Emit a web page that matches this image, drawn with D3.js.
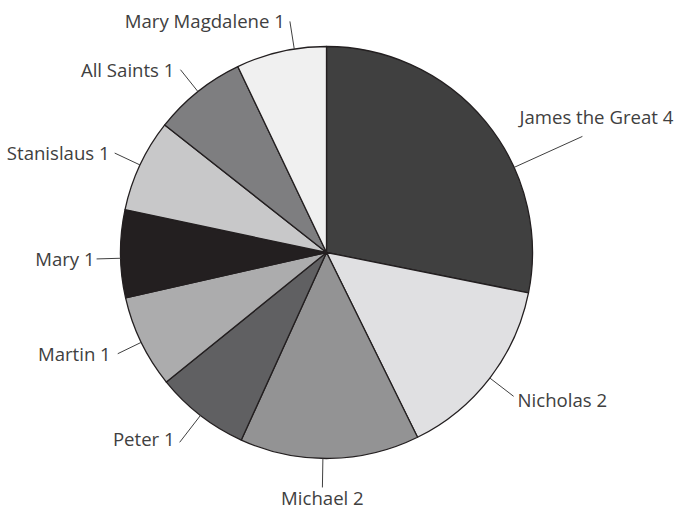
<!DOCTYPE html>
<html>
<head>
<meta charset="utf-8">
<script src="https://cdn.jsdelivr.net/npm/d3@7"></script>
<style>
  html, body { margin: 0; padding: 0; background: #fff; }
  svg { display: block; }
</style>
</head>
<body>
<svg id="chart" width="677" height="510"></svg>
<script>
// ---- data ----
const categories = ["James the Great", "Nicholas", "Michael", "Peter", "Martin", "Mary", "Stanislaus", "All Saints", "Mary Magdalene"];
const counts = [4, 2, 2, 1, 1, 1, 1, 1, 1];
// slice shares (percent)
const shares = [28.2, 14.6, 14.1, 7.4, 7.3, 6.9, 7.3, 7.3, 7.1];
const colors = ["#404040", "#e0e0e2", "#939394", "#606062", "#acacad", "#231f20", "#c8c8c9", "#7e7e80", "#f0f0f0"];

// ---- label layout (leader angle overrides in degrees, leader end radius, text placement) ----
const labelLayout = [
  { angle: 65.6, len: 281, anchor: "middle", dx: 14, dy: -20 },
  { angle: null, len: 236, anchor: "start", dx: 4, dy: 3 },
  { angle: 181, len: 235, anchor: "middle", dx: 0, dy: 10 },
  { angle: null, len: 240, anchor: "end", dx: -5, dy: -4 },
  { angle: null, len: 232, anchor: "end", dx: -7, dy: 0 },
  { angle: 268.4, len: 230, anchor: "end", dx: -2, dy: 0 },
  { angle: null, len: 234, anchor: "end", dx: -5, dy: -1 },
  { angle: null, len: 234, anchor: "end", dx: -6, dy: 0 },
  { angle: 351, len: 234, anchor: "end", dx: -5, dy: -1 }
];

const svg = d3.select("#chart");
const cx = 326.5, cy = 252.5, R = 206;
const g = svg.append("g").attr("transform", `translate(${cx},${cy})`);

const data = categories.map((c, i) => ({ name: c, count: counts[i], share: shares[i], color: colors[i], layout: labelLayout[i] }));

const pie = d3.pie().value(d => d.share).sort(null);
const arc = d3.arc().innerRadius(0).outerRadius(R);
const arcs = pie(data);

g.selectAll("path.slice")
  .data(arcs)
  .join("path")
  .attr("class", "slice")
  .attr("d", arc)
  .attr("fill", d => d.data.color)
  .attr("stroke", "#231f20")
  .attr("stroke-width", 1.3)
  .attr("stroke-linejoin", "round");

const polar = (deg, r) => {
  const a = deg * Math.PI / 180;
  return [r * Math.sin(a), -r * Math.cos(a)];
};

const labels = g.selectAll("g.label").data(arcs).join("g").attr("class", "label");

labels.each(function (d) {
  const L = d.data.layout;
  const mid = (d.startAngle + d.endAngle) / 2 * 180 / Math.PI;
  const ang = L.angle == null ? mid : L.angle;
  const p0 = polar(ang, R);
  const p1 = polar(ang, L.len);
  const sel = d3.select(this);
  sel.append("line")
    .attr("x1", p0[0]).attr("y1", p0[1])
    .attr("x2", p1[0]).attr("y2", p1[1])
    .attr("stroke", "#404040")
    .attr("stroke-width", 1);
  sel.append("text")
    .attr("x", p1[0] + L.dx)
    .attr("y", p1[1] + L.dy)
    .attr("text-anchor", L.anchor)
    .attr("dominant-baseline", "central")
    .attr("font-family", "'Open Sans', Lato, sans-serif")
    .attr("font-size", 18.6)
    .attr("fill", "#404040")
    .text(`${d.data.name} ${d.data.count}`);
});
</script>
</body>
</html>
